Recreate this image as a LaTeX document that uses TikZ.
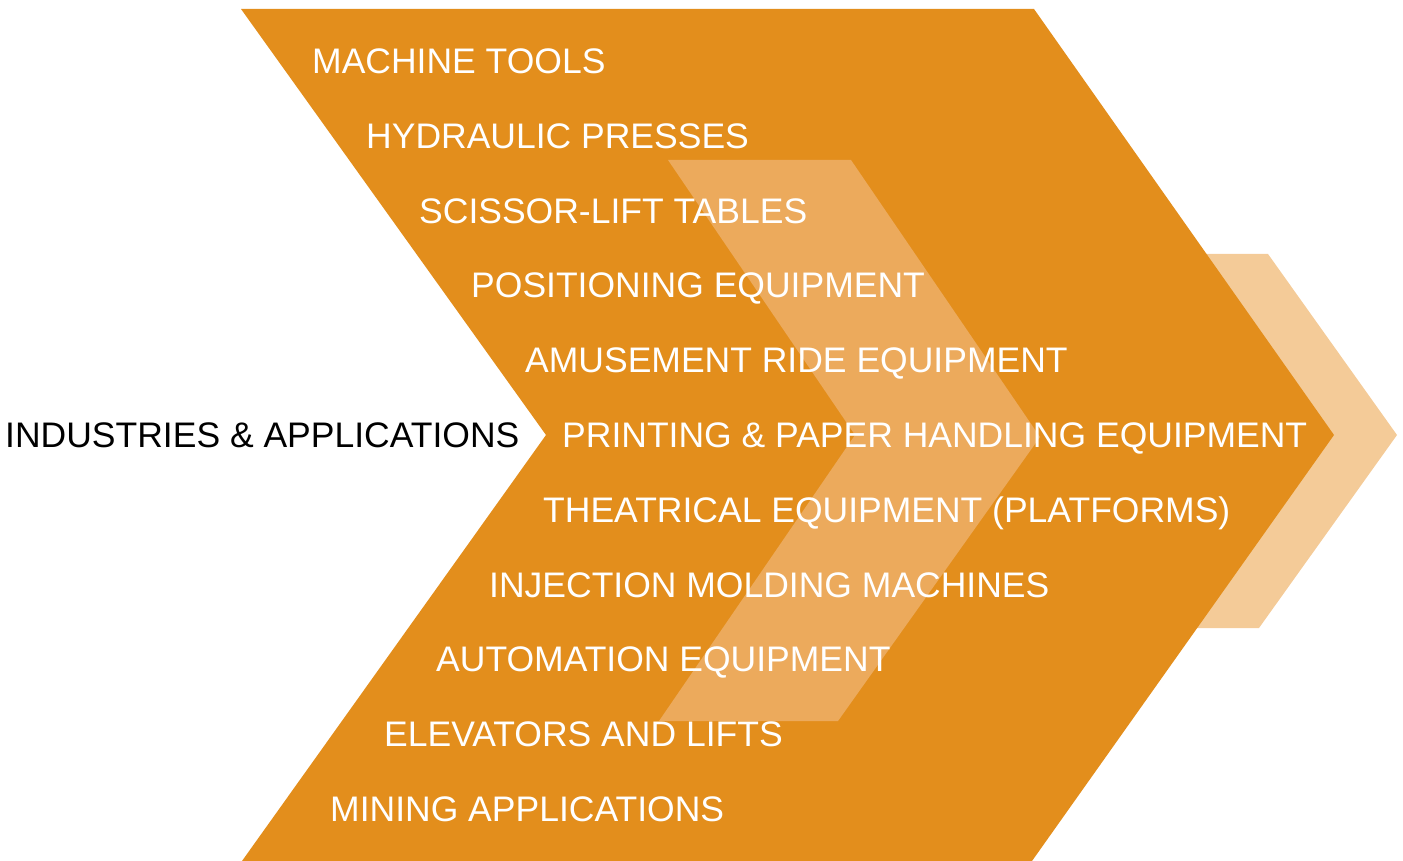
\documentclass[tikz,border=0pt]{standalone}
\usepackage{fontspec}
\setmainfont{Liberation Sans}
\usepackage{tikz}
\usetikzlibrary{positioning, calc}

\definecolor{chevmain}{RGB}{227,142,28}
\definecolor{chevmid}{RGB}{236,170,92}
\definecolor{chevback}{RGB}{244,203,152}

\tikzset{
    item/.style={anchor=base west, inner sep=0pt, text=white,
        font=\fontsize{35.5}{40}\selectfont},
    title/.style={item, text=black}
}

\begin{document}
\begin{tikzpicture}[x=1pt, y=-1pt]
    \useasboundingbox (0,0) rectangle (1403,861);

    % back chevron
    \coordinate (B1) at (1150,254);
    \coordinate (B2) at (1268,254);
    \coordinate (B3) at (1397,435);
    \coordinate (B4) at (1259,628);
    \coordinate (B5) at (1140,628);
    \coordinate (B6) at (1270,435);
    \fill[chevback] (B1) -- (B2) -- (B3) -- (B4) -- (B5) -- (B6) -- cycle;

    % main chevron
    \coordinate (M1) at (241,9);
    \coordinate (M2) at (1034,9);
    \coordinate (M3) at (1334,435);
    \coordinate (M4) at (1032,861);
    \coordinate (M5) at (242,861);
    \coordinate (M6) at (546,435);
    \fill[chevmain] (M1) -- (M2) -- (M3) -- (M4) -- (M5) -- (M6) -- cycle;

    % middle chevron
    \coordinate (C1) at (668,160);
    \coordinate (C2) at (851,160);
    \coordinate (C3) at (1040,437);
    \coordinate (C4) at (838,721);
    \coordinate (C5) at (659,721);
    \coordinate (C6) at (855,435);
    \fill[chevmid] (C1) -- (C2) -- (C3) -- (C4) -- (C5) -- (C6) -- cycle;

    % title
    \node[title] (industries) at (5,447.5) {INDUSTRIES \& APPLICATIONS};

    % items
    \foreach \x/\y/\txt/\i in {
        312/73.5/MACHINE TOOLS/1,
        366/148.3/HYDRAULIC PRESSES/2,
        419/223.1/SCISSOR-LIFT TABLES/3,
        471/297.9/POSITIONING EQUIPMENT/4,
        525/372.7/AMUSEMENT RIDE EQUIPMENT/5,
        562/447.5/PRINTING \& PAPER HANDLING EQUIPMENT/6,
        543/522.3/THEATRICAL EQUIPMENT (PLATFORMS)/7,
        489/597.1/INJECTION MOLDING MACHINES/8,
        436/671.9/AUTOMATION EQUIPMENT/9,
        384/746.7/ELEVATORS AND LIFTS/10,
        330/821.5/MINING APPLICATIONS/11}
    {
        \node[item] (item\i) at (\x,\y) {\txt};
    }
\end{tikzpicture}
\end{document}
